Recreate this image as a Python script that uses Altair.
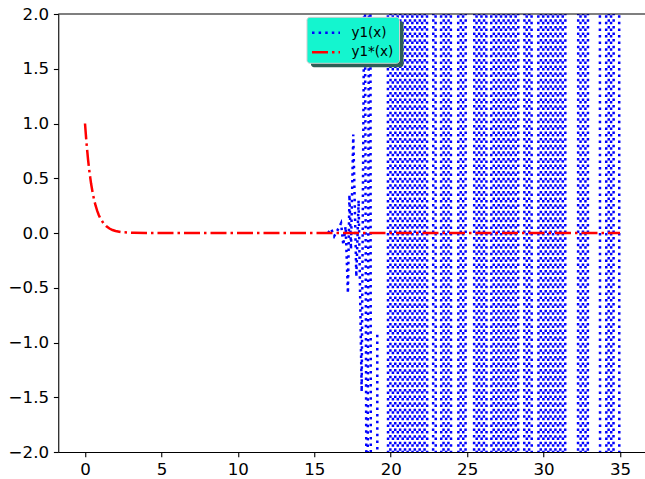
import altair as alt
import pandas as pd

# ---- data ----
# exact solution y1*(x)
red_x = [0, 0.1, 0.2, 0.3, 0.4, 0.5, 0.6, 0.7, 0.8, 0.9, 1.0, 1.2, 1.4, 1.6, 1.8, 2.0,
         2.4, 2.8, 3.2, 4.0, 5.0, 10.0, 15.0, 20.0, 25.0, 30.0, 35.0]
red_y = [1.0, 0.819, 0.670, 0.549, 0.449, 0.368, 0.301, 0.247, 0.202, 0.165, 0.135,
         0.091, 0.061, 0.041, 0.027, 0.018, 0.008, 0.004, 0.002, 0.0003, 0.0, 0.0,
         0.0, 0.0, 0.0, 0.0, 0.0]

# numerical solution y1(x): unstable oscillation (None = gap in the drawn path)
A = 30.137  # far outside the visible range
blue_x = [
    15.9, 16.1, 16.3, 16.5, 16.75, 16.9, 17.05, 17.2, 17.3, 17.4, 17.55, 17.75, 17.9,
    18.1, 18.3, 18.45, 18.65, 18.85,
    19.0,
    19.12, 19.2,
    19.5,
    19.74, 19.90, 20.06, 20.22, 20.38, 20.54, 20.70, 20.86, 21.02, 21.18, 21.34, 21.50,
    21.66, 21.82, 21.98, 22.14, 22.30, 22.46,
    22.6,
    22.70, 22.86, 23.02,
    23.1,
    23.22, 23.38, 23.54, 23.70, 23.86, 24.02,
    24.2,
    24.34, 24.50, 24.66, 24.82, 24.98,
    25.2,
    25.38, 25.54, 25.70, 25.86, 26.02, 26.18, 26.34,
    26.4,
    26.50, 26.66, 26.82, 26.98, 27.14, 27.30, 27.46, 27.62, 27.78, 27.94, 28.10, 28.26, 28.42,
    28.5,
    28.66, 28.82, 28.98, 29.14, 29.30,
    29.4,
    29.58, 29.74, 29.90, 30.06, 30.22, 30.38, 30.54, 30.70, 30.86, 31.02, 31.18, 31.34, 31.50,
    31.8,
    32.18, 32.34, 32.50, 32.66, 32.82, 32.98,
    33.3,
    33.61, 33.77,
    33.9,
    34.02, 34.18, 34.34, 34.50, 34.66,
    34.8,
    34.9, 35.0,
]
blue_y = [
    0.0, 0.04, -0.03, 0.02, 0.09, -0.11, 0.06, -0.55, 0.35, -0.15, 0.9, -0.4, 0.3,
    -1.45, 3.0, -4.5, 6.5, -A,
    None,
    -0.93, -A,
    None,
    A, -A, A, -A, A, -A, A, -A, A, -A, A, -A, A, -A, A, -A, A, -A,
    None,
    -A, A, -A,
    None,
    A, -A, A, -A, A, -A,
    None,
    A, -A, A, -A, A,
    None,
    -A, A, -A, A, -A, A, -A,
    None,
    A, -A, A, -A, A, -A, A, -A, A, -A, A, -A, A,
    None,
    -A, A, -A, A, -A,
    None,
    A, -A, A, -A, A, -A, A, -A, A, -A, A, -A, A,
    None,
    -A, A, -A, A, -A, A,
    None,
    A, -A,
    None,
    A, -A, A, -A, A,
    None,
    A, -A,
]

x_ticks = [0, 5, 10, 15, 20, 25, 30, 35]
y_ticks = [-2.0, -1.5, -1.0, -0.5, 0.0, 0.5, 1.0, 1.5, 2.0]
legend_labels = ["y1(x)", "y1*(x)"]

# ---- build tables ----
red_df = pd.DataFrame({"x": red_x, "y": red_y})
blue_df = pd.DataFrame({"x": blue_x, "y": blue_y})
blue_df["seg"] = blue_df["y"].isnull().cumsum()
blue_df = blue_df.dropna().reset_index(drop=True)

W, H = 586.75, 438
FONT = "DejaVu Sans"
FS = 16.67

xscale = alt.Scale(domain=[-1.75, 36.635], nice=False, zero=False)
yscale = alt.Scale(domain=[-2, 2], nice=False, zero=False)

xaxis = alt.Axis(values=x_ticks, format="d", title=None, grid=False,
                 labelFont=FONT, labelFontSize=FS, labelColor="black",
                 tickSize=4.86, tickWidth=1.1, tickColor="black",
                 domainColor="black", domainWidth=1.1, labelPadding=4.86,
                 labelFlush=False)
yaxis = alt.Axis(values=y_ticks, title=None, grid=False,
                 labelExpr="replace(format(datum.value, '.1f'), '-', '\u2212')",
                 labelFont=FONT, labelFontSize=FS, labelColor="black",
                 tickSize=4.86, tickWidth=1.1, tickColor="black",
                 domainColor="black", domainWidth=1.1, labelPadding=4.86,
                 labelFlush=False)

blue = alt.Chart(blue_df).mark_line(
    color="#0000FF", strokeWidth=2.5, strokeDash=[2.5, 4.1], strokeCap="butt", clip=True
).encode(
    x=alt.X("x:Q", scale=xscale, axis=xaxis),
    y=alt.Y("y:Q", scale=yscale, axis=yaxis),
    detail="seg:N",
)

red = alt.Chart(red_df).mark_line(
    color="#FF0000", strokeWidth=2.5, strokeDash=[16, 4, 2.5, 4], strokeCap="butt", clip=True
).encode(
    x=alt.X("x:Q", scale=xscale),
    y=alt.Y("y:Q", scale=yscale),
)

one = pd.DataFrame({"k": [0]})

top_spine = alt.Chart(one).mark_rule(color="black", strokeWidth=1.1).encode(
    x=alt.value(0), x2=alt.value(W), y=alt.value(0)
)

# legend box (manual, with shadow)
shadow = alt.Chart(one).mark_rect(color="#2E5E55", cornerRadius=3).encode(
    x=alt.value(252.75), x2=alt.value(345.25), y=alt.value(7.3), y2=alt.value(53.3)
)
box = alt.Chart(one).mark_rect(fill="#14F5CF", stroke="#CFCFCF", strokeWidth=1,
                                cornerRadius=3).encode(
    x=alt.value(248.75), x2=alt.value(341.25), y=alt.value(3.3), y2=alt.value(49.3)
)
h_blue = alt.Chart(one).mark_rule(color="#0000FF", strokeWidth=2.5,
                                   strokeDash=[2.5, 4.1], strokeCap="butt").encode(
    x=alt.value(253.75), x2=alt.value(281.75), y=alt.value(18.7)
)
h_red = alt.Chart(one).mark_rule(color="#FF0000", strokeWidth=2.5,
                                  strokeDash=[16, 4, 2.5, 4], strokeCap="butt").encode(
    x=alt.value(253.75), x2=alt.value(281.75), y=alt.value(38.3)
)
t_blue = alt.Chart(one).mark_text(align="left", baseline="middle", font=FONT,
                                   fontSize=13.5, color="black").encode(
    x=alt.value(293.25), y=alt.value(18.7), text=alt.value(legend_labels[0])
)
t_red = alt.Chart(one).mark_text(align="left", baseline="middle", font=FONT,
                                  fontSize=13.5, color="black").encode(
    x=alt.value(293.25), y=alt.value(38.3), text=alt.value(legend_labels[1])
)

chart = alt.layer(
    blue, red, top_spine, shadow, box, h_blue, h_red, t_blue, t_red
).properties(
    width=W, height=H,
    autosize=alt.AutoSizeParams(type="none"),
    padding={"left": 58.25, "top": 14, "right": 0, "bottom": 27},
    background="white",
).configure_view(stroke=None)

chart.save("out.html", embed_options={"renderer": "svg", "actions": False})
